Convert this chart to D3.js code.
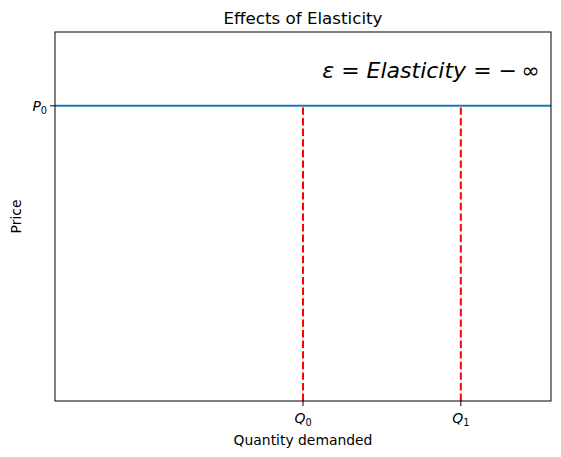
<!DOCTYPE html>
<html>
<head>
<meta charset="utf-8">
<script src="https://cdn.jsdelivr.net/npm/d3@7"></script>
<style>
  body { margin: 0; background: #fff; }
  text { font-family: "DejaVu Sans", sans-serif; }
</style>
</head>
<body>
<svg id="chart" width="561" height="457"></svg>
<script>
// chart values
var xLimits = [0, 11];
var yLimits = [0, 10];
var priceLevels = [{ name: 'P', sub: '0', value: 8 }];
var quantities = [{ name: 'Q', sub: '0', value: 5.5 }, { name: 'Q', sub: '1', value: 9 }];

var svg = d3.select('#chart');
var margin = { left: 55, right: 10, top: 32, bottom: 56 };
var width = 561 - margin.left - margin.right;
var height = 457 - margin.top - margin.bottom;

var x = d3.scaleLinear().domain(xLimits).range([0, width]);
var y = d3.scaleLinear().domain(yLimits).range([height, 0]);

var g = svg.append('g').attr('transform', 'translate(' + margin.left + ',' + margin.top + ')');

// horizontal demand line (perfectly elastic)
g.selectAll('line.price')
    .data(priceLevels)
    .enter()
    .append('line')
    .attr('class', 'price')
    .attr('x1', x(xLimits[0])).attr('x2', x(xLimits[1]))
    .attr('y1', function (d) { return y(d.value); })
    .attr('y2', function (d) { return y(d.value); })
    .attr('stroke', '#1f77b4')
    .attr('stroke-width', 2);

// dashed quantity lines
g.selectAll('line.qty')
    .data(quantities)
    .enter()
    .append('line')
    .attr('class', 'qty')
    .attr('x1', function (d) { return x(d.value); })
    .attr('x2', function (d) { return x(d.value); })
    .attr('y1', y(yLimits[0]))
    .attr('y2', y(priceLevels[0].value))
    .attr('stroke', '#ff0000')
    .attr('stroke-width', 2)
    .attr('stroke-dasharray', '7.4,3.2');

// axes frame
g.append('rect')
    .attr('width', width).attr('height', height)
    .attr('fill', 'none').attr('stroke', '#000').attr('stroke-width', 1);

// helper for subscripted italic labels
function subLabel(sel) {
    sel.append('tspan').attr('font-style', 'italic').text(function (d) { return d.name; });
    sel.append('tspan').attr('font-size', '9.7px').attr('dy', '3').text(function (d) { return d.sub; });
}

// x ticks
var xt = g.selectAll('g.xtick')
    .data(quantities)
    .enter()
    .append('g')
    .attr('class', 'xtick')
    .attr('transform', function (d) { return 'translate(' + x(d.value) + ',' + height + ')'; });
xt.append('line').attr('y2', 5).attr('stroke', '#000');
xt.append('text')
    .attr('y', 22)
    .attr('text-anchor', 'middle')
    .attr('font-size', '13.9px')
    .call(subLabel);

// y ticks
var yt = g.selectAll('g.ytick')
    .data(priceLevels)
    .enter()
    .append('g')
    .attr('class', 'ytick')
    .attr('transform', function (d) { return 'translate(0,' + y(d.value) + ')'; });
yt.append('line').attr('x2', -5).attr('stroke', '#000');
yt.append('text')
    .attr('x', -8)
    .attr('y', 5)
    .attr('text-anchor', 'end')
    .attr('font-size', '13.9px')
    .call(subLabel);

// annotation
var note = g.append('text')
    .attr('x', x(10.75))
    .attr('y', y(8.75))
    .attr('text-anchor', 'end')
    .attr('font-size', '22px');
note.append('tspan').attr('font-style', 'italic').text('ε');
note.append('tspan').text(' = ');
note.append('tspan').attr('font-style', 'italic').text('Elasticity');
note.append('tspan').text(' = \u2212\u2009\u221e');

// title and labels
svg.append('text')
    .attr('x', margin.left + width / 2).attr('y', 24)
    .attr('text-anchor', 'middle').attr('font-size', '16.7px')
    .text('Effects of Elasticity');

svg.append('text')
    .attr('x', margin.left + width / 2).attr('y', 445)
    .attr('text-anchor', 'middle').attr('font-size', '13.9px')
    .text('Quantity demanded');

svg.append('text')
    .attr('transform', 'translate(21,' + (margin.top + height / 2) + ') rotate(-90)')
    .attr('text-anchor', 'middle').attr('font-size', '13.9px')
    .text('Price');
</script>
</body>
</html>
